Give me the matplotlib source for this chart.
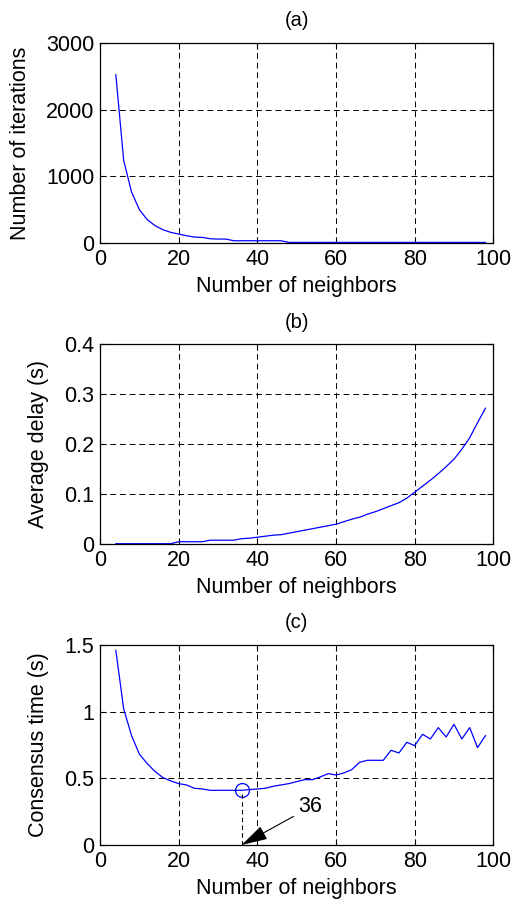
import numpy as np
import matplotlib
matplotlib.use('Agg')
from matplotlib import pyplot as plt

# number of neighbors (x axis shared by all three panels)
neighbors = np.arange(4, 100, 2)

# (a) number of iterations
iterations = [2525, 1240, 765, 500, 350, 260, 200, 160, 135, 110, 90, 85,
              65, 60, 60, 35, 35, 35, 35, 35, 35, 35, 10, 10, 10, 10, 10, 10,
              10, 10, 10, 10, 10, 10, 10, 10, 10, 10, 10, 10, 10, 10, 10, 10,
              10, 10, 10, 10]

# (b) average delay (s)
avg_delay = [0.001, 0.001, 0.001, 0.001, 0.001, 0.001, 0.001, 0.001, 0.005,
             0.005, 0.005, 0.005, 0.008, 0.008, 0.008, 0.008, 0.011, 0.012,
             0.014, 0.016, 0.018, 0.019, 0.022, 0.025, 0.028, 0.031, 0.034,
             0.037, 0.040, 0.045, 0.050, 0.054, 0.060, 0.065, 0.071, 0.077,
             0.083, 0.092, 0.104, 0.116, 0.128, 0.141, 0.155, 0.170, 0.190,
             0.213, 0.243, 0.272]

# (c) consensus time (s)
consensus = [1.46, 1.02, 0.82, 0.68, 0.61, 0.55, 0.505, 0.48, 0.46, 0.45,
             0.425, 0.42, 0.41, 0.41, 0.41, 0.41, 0.41, 0.415, 0.42, 0.425,
             0.44, 0.45, 0.46, 0.475, 0.49, 0.49, 0.51, 0.535, 0.525, 0.54,
             0.565, 0.62, 0.635, 0.635, 0.635, 0.71, 0.69, 0.77, 0.745, 0.83,
             0.795, 0.88, 0.81, 0.905, 0.795, 0.88, 0.73, 0.82]

best_n = 36
best_t = 0.41

titles = ['(a)', '(b)', '(c)']
ylabels = ['Number of iterations', 'Average delay (s)', 'Consensus time (s)']
ylims = [(0, 3000), (0, 0.4), (0, 1.5)]
yticks = [[0, 1000, 2000, 3000], [0, 0.1, 0.2, 0.3, 0.4], [0, 0.5, 1, 1.5]]
ytick_labels = [['0', '1000', '2000', '3000'], ['0', '0.1', '0.2', '0.3', '0.4'],
                ['0', '0.5', '1', '1.5']]

plt.rcParams['font.family'] = ['Liberation Sans', 'DejaVu Sans']
plt.rcParams['font.size'] = 15.5

fig = plt.figure(figsize=(5.16, 9.07), dpi=100)
bottoms = [0.732, 0.400, 0.0684]
series = [iterations, avg_delay, consensus]

for i in range(3):
    ax = fig.add_axes([0.194, bottoms[i], 0.762, 0.2205])
    ax.plot(neighbors, series[i], color='#0000ff', lw=0.9)
    ax.set_xlim(0, 100)
    ax.set_ylim(*ylims[i])
    ax.set_xticks([0, 20, 40, 60, 80, 100])
    ax.set_yticks(yticks[i])
    ax.set_yticklabels(ytick_labels[i])
    ax.grid(True, color='black', linestyle=(0, (6, 4)), lw=0.7)
    ax.tick_params(direction='in', length=4, top=True, right=True)
    ax.tick_params(axis='x', pad=4.5)
    ax.tick_params(axis='y', pad=4)
    ax.set_xlabel('Number of neighbors', labelpad=4)
    ax.set_ylabel(ylabels[i], labelpad=11)
    ax.set_title(titles[i], fontsize=14.5, pad=12)
    for s in ax.spines.values():
        s.set_linewidth(0.9)

    if i == 2:
        # minimum consensus time marker + arrow down to the x axis
        ax.plot([best_n], [best_t], 'o', mfc='none', mec='#0000ff', ms=10, mew=0.9)
        ax.plot([best_n, best_n], [0, best_t - 0.03], color='black',
                linestyle=(0, (4, 3)), lw=0.8)
        ax.annotate(str(best_n), xy=(best_n, 0), xytext=(50.5, 0.285),
                    fontsize=15.5, va='center', ha='left',
                    arrowprops=dict(arrowstyle='-|>,head_length=0.9,head_width=0.25',
                                    color='black', lw=0.8, mutation_scale=18,
                                    shrinkA=2, shrinkB=0))

fig.savefig('out.png', dpi=100)
